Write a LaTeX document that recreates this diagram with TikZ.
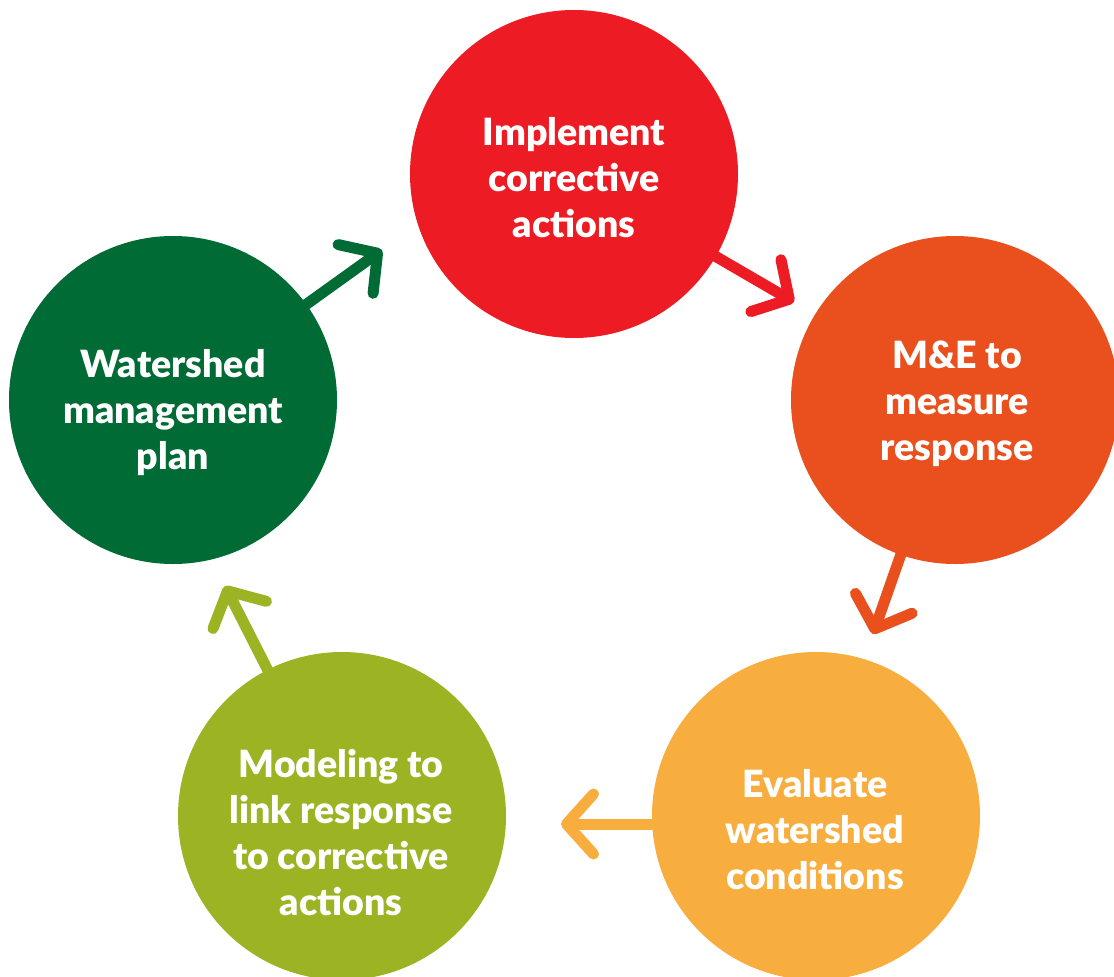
\documentclass[tikz,border=0pt]{standalone}
\usepackage{fontspec}
\setmainfont{Lato}[BoldFont={Lato Black}]
\usetikzlibrary{arrows.meta}
\definecolor{cred}{HTML}{ED1C24}
\definecolor{corange}{HTML}{E9501E}
\definecolor{cyellow}{HTML}{F8AD3F}
\definecolor{colive}{HTML}{9CB323}
\definecolor{cgreen}{HTML}{006B34}
\tikzset{
  bubble/.style={circle, minimum size=328pt, inner sep=0pt, fill=#1},
  btext/.style={text=white, align=center, font=\fontsize{37.5}{46}\selectfont\bfseries},
  flow/.style={draw=#1, line width=11pt, line cap=round,
    -{Straight Barb[length=27pt, width=60pt, round]}}
}
\begin{document}
\begin{tikzpicture}[x=1pt, y=-1pt]
\useasboundingbox (0,0) rectangle (1114,977);
\clip (0,0) rectangle (1114,977);
\node[bubble=cred] (red) at (574,174) {};
\node[bubble=corange] (orange) at (955,400) {};
\node[bubble=cyellow] (yellow) at (816,816) {};
\node[bubble=colive] (olive) at (342,816) {};
\node[bubble=cgreen] (green) at (173,400) {};
\node[btext] (tred) at (574,178) {Implement\\corrective\\actions};
\node[btext] (torange) at (957,404) {M\&E to\\measure\\response};
\node[btext] (tyellow) at (815,830) {Evaluate\\watershed\\conditions};
\node[btext] (tolive) at (341,833) {Modeling to\\link response\\to corrective\\actions};
\node[btext] (tgreen) at (173,413) {Watershed\\management\\plan};
\coordinate (a1) at (382,250);
\coordinate (a2) at (794,302);
\coordinate (a3) at (873,634);
\coordinate (a4) at (561,824);
\coordinate (a5) at (225,586);
\draw[flow=cgreen] (green) -- (a1);
\draw[flow=cred] (red) -- (a2);
\draw[flow=corange] (orange) -- (a3);
\draw[flow=cyellow] (a4 -| yellow.west) -- (a4);
\draw[flow=colive] (olive) -- (a5);
\end{tikzpicture}
\end{document}
